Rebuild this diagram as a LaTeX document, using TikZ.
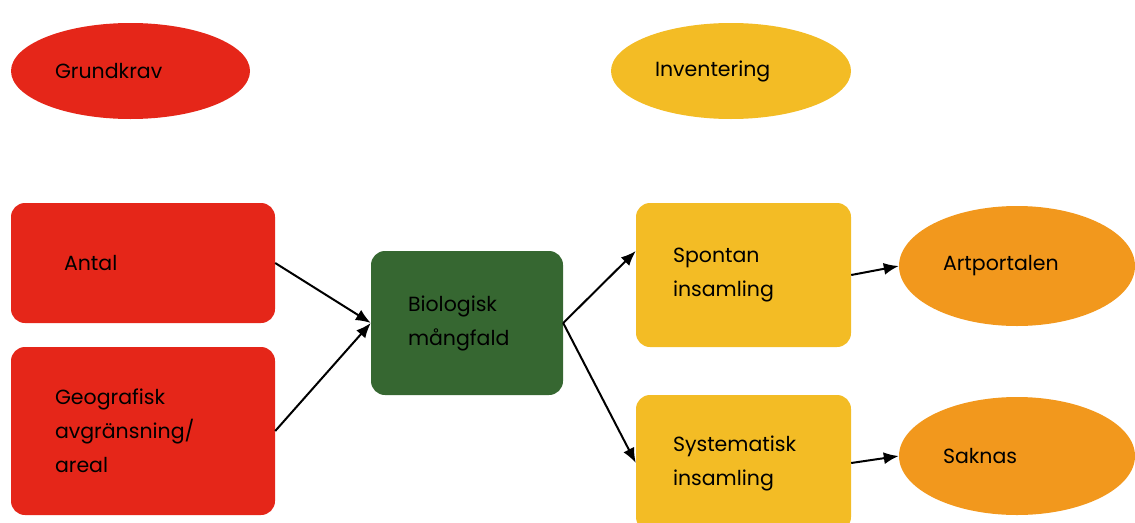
\documentclass[tikz,border=0pt]{standalone}
\usepackage{fontspec}
\setmainfont{Poppins}
\usepackage{tikz}
\usetikzlibrary{shapes.geometric,arrows.meta}
\definecolor{kravred}{RGB}{229,38,25}
\definecolor{invyellow}{RGB}{243,188,37}
\definecolor{portorange}{RGB}{242,152,29}
\definecolor{biogreen}{RGB}{54,103,49}

\begin{document}
\begin{tikzpicture}[x=1pt,y=1pt,yscale=-1,xscale=1,
  every node/.style={font=\fontsize{20.5}{34}\selectfont, text=black},
  rbox/.style={rectangle, rounded corners=14pt, align=left, inner ysep=0pt},
  oval/.style={ellipse, minimum height=96pt, align=left, inner sep=0pt},
  link/.style={line width=2pt, -{Latex[length=15pt,width=12pt]}}]
\useasboundingbox (0,0) rectangle (1135,522);

%Shape: Ellipse [Grundkrav]
\node [oval, fill=kravred, minimum width=239pt, text width=151pt] (grundkrav) at (130.5,71) {Grundkrav};
%Shape: Ellipse [Inventering]
\node [oval, fill=invyellow, minimum width=240pt, text width=152pt] (inventering) at (731,71) {Inventering};

%Shape: Rounded Rect [Antal]
\node [rbox, fill=kravred, minimum height=120pt, inner xsep=53pt, text width=158pt] (antal) at (143,263) {Antal};
%Shape: Rounded Rect [Geografisk]
\node [rbox, fill=kravred, minimum height=168pt, inner xsep=44pt, text width=176pt] (geo) at (143,431) {Geografisk\\avgränsning/\\areal};
%Shape: Rounded Rect [Biologisk]
\node [rbox, fill=biogreen, minimum height=144pt, inner xsep=37pt, text width=118pt] (bio) at (467,323) {Biologisk\\mångfald};
%Shape: Rounded Rect [Spontan]
\node [rbox, fill=invyellow, minimum height=144pt, inner xsep=37pt, text width=141pt] (spontan) at (743.5,275) {Spontan\\insamling};
%Shape: Rounded Rect [Systematisk]
\node [rbox, fill=invyellow, minimum height=136pt, inner xsep=37pt, text width=141pt] (syst) at (743.5,463) {Systematisk\\insamling};

%Shape: Ellipse [Artportalen]
\node [oval, fill=portorange, minimum width=236pt, minimum height=120pt, text width=148pt] (artportalen) at (1017,266) {Artportalen};
%Shape: Ellipse [Saknas]
\node [oval, fill=portorange, minimum width=236pt, minimum height=118pt, text width=148pt] (saknas) at (1017,456) {Saknas};

%Straight Lines
\draw [link] (antal.east) -- (bio.west);
\draw [link] (geo.east) -- (bio.west);
\draw [link] (bio.east) -- ([yshift=-24pt]spontan.west);
\draw [link] (bio.east) -- (syst.west);
\draw [link] (spontan.east) -- (artportalen.west);
\draw [link] (syst.east) -- (saknas.west);

\end{tikzpicture}
\end{document}
